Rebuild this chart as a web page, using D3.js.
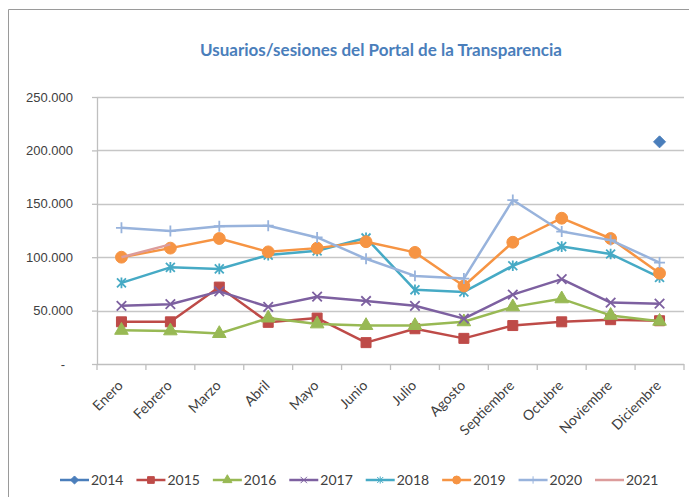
<!DOCTYPE html>
<html>
<head>
<meta charset="utf-8">
<script src="https://cdn.jsdelivr.net/npm/d3@7"></script>
<style>
  body { margin: 0; background: #fff; }
  svg { display: block; font-family: Lato, "Liberation Sans", sans-serif; }
  .grid line { stroke: #c6c6c6; stroke-width: 1.5; }
  .axis path, .axis line { stroke: #bfbfbf; stroke-width: 1.3; }
  .axis text { fill: #404040; font-size: 13px; }
  .axis .mes { font-size: 14px; }
  .legend text { fill: #404040; font-size: 14px; }
</style>
</head>
<body>
<svg id="chart" width="689" height="497"></svg>
<script>
var meses = ["Enero", "Febrero", "Marzo", "Abril", "Mayo", "Junio", "Julio", "Agosto",
             "Septiembre", "Octubre", "Noviembre", "Diciembre"];
var anios = ["2014", "2015", "2016", "2017", "2018", "2019", "2020", "2021"];
var yTicks = [0, 50000, 100000, 150000, 200000, 250000];

var v2014 = [null, null, null, null, null, null, null, null, null, null, null, 208000];
var v2015 = [39500, 39500, 72000, 39000, 43000, 20000, 33000, 24000, 36000, 39500, 41500, 40500];
var v2016 = [31500, 31000, 28500, 43000, 37500, 36000, 36000, 39500, 53500, 61000, 45500, 40000];
var v2017 = [54500, 56000, 68000, 53500, 63000, 59000, 54500, 42500, 65000, 79500, 57500, 56500];
var v2018 = [76000, 90500, 89000, 102000, 106000, 118000, 69500, 67500, 92000, 110000, 103000, 81000];
var v2019 = [100000, 108500, 117500, 105000, 108500, 114500, 104500, 73000, 114000, 136500, 117500, 85000];
var v2020 = [127500, 124500, 129000, 129500, 118500, 98500, 82500, 80000, 153500, 124000, 116000, 95000];
var v2021 = [100000, 112000, null, null, null, null, null, null, null, null, null, null];

var colores = ["#4a7ebb", "#be4b48", "#98b954", "#7d60a0", "#46aac5", "#f69443", "#98b3dc", "#dc9c9b"];

// custom marks (Excel style)
var simbRombo = { draw: function (c, s) { var r = Math.sqrt(s) / 2 * 1.2;
  c.moveTo(0, -r); c.lineTo(r, 0); c.lineTo(0, r); c.lineTo(-r, 0); c.closePath(); } };
var simbTimes = { draw: function (c, s) { var r = Math.sqrt(s) / 2;
  c.moveTo(-r, -r); c.lineTo(r, r); c.moveTo(r, -r); c.lineTo(-r, r); } };
var simbPlus = { draw: function (c, s) { var r = Math.sqrt(s) / 2;
  c.moveTo(-r, 0); c.lineTo(r, 0); c.moveTo(0, -r); c.lineTo(0, r); } };
var simbAster = { draw: function (c, s) { var r = Math.sqrt(s) / 2;
  c.moveTo(-r, -r); c.lineTo(r, r); c.moveTo(r, -r); c.lineTo(-r, r);
  c.moveTo(0, -r * 1.2); c.lineTo(0, r * 1.2); } };

var series = [
  { anio: "2014", valores: v2014, simbolo: simbRombo, size: 100, relleno: true },
  { anio: "2015", valores: v2015, simbolo: d3.symbolSquare, size: 100, relleno: true },
  { anio: "2016", valores: v2016, simbolo: d3.symbolTriangle, size: 80, relleno: true },
  { anio: "2017", valores: v2017, simbolo: simbTimes, size: 90, relleno: false },
  { anio: "2018", valores: v2018, simbolo: simbAster, size: 80, relleno: false },
  { anio: "2019", valores: v2019, simbolo: d3.symbolCircle, size: 110, relleno: true },
  { anio: "2020", valores: v2020, simbolo: simbPlus, size: 120, relleno: false },
  { anio: "2021", valores: v2021, simbolo: null, size: 0, relleno: true }
];

var svg = d3.select("#chart");

// chart frame
svg.append("path").attr("d", "M8.5,497 V9.5 H689").attr("fill", "none")
  .attr("stroke", "#9a9a9a").attr("stroke-width", 1);

svg.append("text").attr("x", 381).attr("y", 56).attr("text-anchor", "middle")
  .attr("fill", "#4a7ebb").style("font-size", "17px").style("font-weight", "bold")
  .text("Usuarios/sesiones del Portal de la Transparencia");

var pLeft = 97, pRight = 684, pTop = 97, pBottom = 364;

var x = d3.scaleBand().domain(meses).range([pLeft, pRight]);
var y = d3.scaleLinear().domain([0, 250000]).range([pBottom, pTop]);
var cx = function (m) { return x(m) + x.bandwidth() / 2; };

svg.append("g").attr("class", "grid")
  .selectAll("line").data(yTicks.slice(1)).join("line")
  .attr("x1", pLeft).attr("x2", pRight)
  .attr("y1", function (d) { return Math.round(y(d)) + 0.5; })
  .attr("y2", function (d) { return Math.round(y(d)) + 0.5; });

var fmt = function (d) { return d === 0 ? "-" : d3.format(",")(d).replace(/,/g, "."); };

var ya = svg.append("g").attr("class", "axis")
  .attr("transform", "translate(" + pLeft + ",0)")
  .call(d3.axisLeft(y).tickValues(yTicks).tickFormat(fmt).tickSize(5).tickSizeOuter(0).tickPadding(19));
ya.selectAll(".tick").filter(function (d) { return d === 0; }).select("text")
  .attr("text-anchor", "middle").attr("x", -34);

var xa = svg.append("g").attr("class", "axis")
  .attr("transform", "translate(0," + pBottom + ")");
xa.append("line").attr("x1", pLeft).attr("x2", pRight).attr("y1", 0.5).attr("y2", 0.5);
xa.selectAll(".tk").data(d3.range(meses.length + 1)).join("line").attr("class", "tk")
  .attr("x1", function (i) { return pLeft + i * x.step(); })
  .attr("x2", function (i) { return pLeft + i * x.step(); })
  .attr("y1", 0).attr("y2", 6);
xa.selectAll("text").data(meses).join("text")
  .attr("class", "mes")
  .attr("text-anchor", "end")
  .attr("transform", function (m) { return "translate(" + (cx(m) - 1) + ",19) rotate(-45)"; })
  .attr("dy", "0.35em")
  .text(function (m) { return m; });

var linea = d3.line()
  .defined(function (d) { return d != null; })
  .x(function (d, i) { return cx(meses[i]); })
  .y(function (d) { return y(d); });

var g = svg.append("g");
series.forEach(function (s, k) {
  var col = colores[k];
  g.append("path").datum(s.valores).attr("d", linea)
    .attr("fill", "none").attr("stroke", col).attr("stroke-width", 2.5)
    .attr("stroke-linejoin", "round");
  if (!s.simbolo) return;
  var sym = d3.symbol().type(s.simbolo).size(s.size);
  g.selectAll(null).data(s.valores.map(function (v, i) { return { v: v, m: meses[i] }; })
      .filter(function (d) { return d.v != null; }))
    .join("path")
    .attr("transform", function (d) { return "translate(" + cx(d.m) + "," + y(d.v) + ")"; })
    .attr("d", sym)
    .attr("fill", s.relleno ? col : "none")
    .attr("stroke", col).attr("stroke-width", s.relleno ? 1 : 1.8);
});

// legend
var leg = svg.append("g").attr("class", "legend");
var legX = d3.scalePoint().domain(anios).range([60, 595]);
series.forEach(function (s, k) {
  var col = colores[k];
  var it = leg.append("g").attr("transform", "translate(" + legX(s.anio) + ",480)");
  it.append("line").attr("x1", 0).attr("x2", 29).attr("stroke", col).attr("stroke-width", 2.5);
  if (s.simbolo) {
    it.append("path").attr("transform", "translate(14.5,0)")
      .attr("d", d3.symbol().type(s.simbolo).size(s.size * 0.45))
      .attr("fill", s.relleno ? col : "none")
      .attr("stroke", col).attr("stroke-width", s.relleno ? 1 : 1);
  }
  it.append("text").attr("x", 31).attr("dy", "0.35em").text(s.anio);
});
</script>
</body>
</html>
